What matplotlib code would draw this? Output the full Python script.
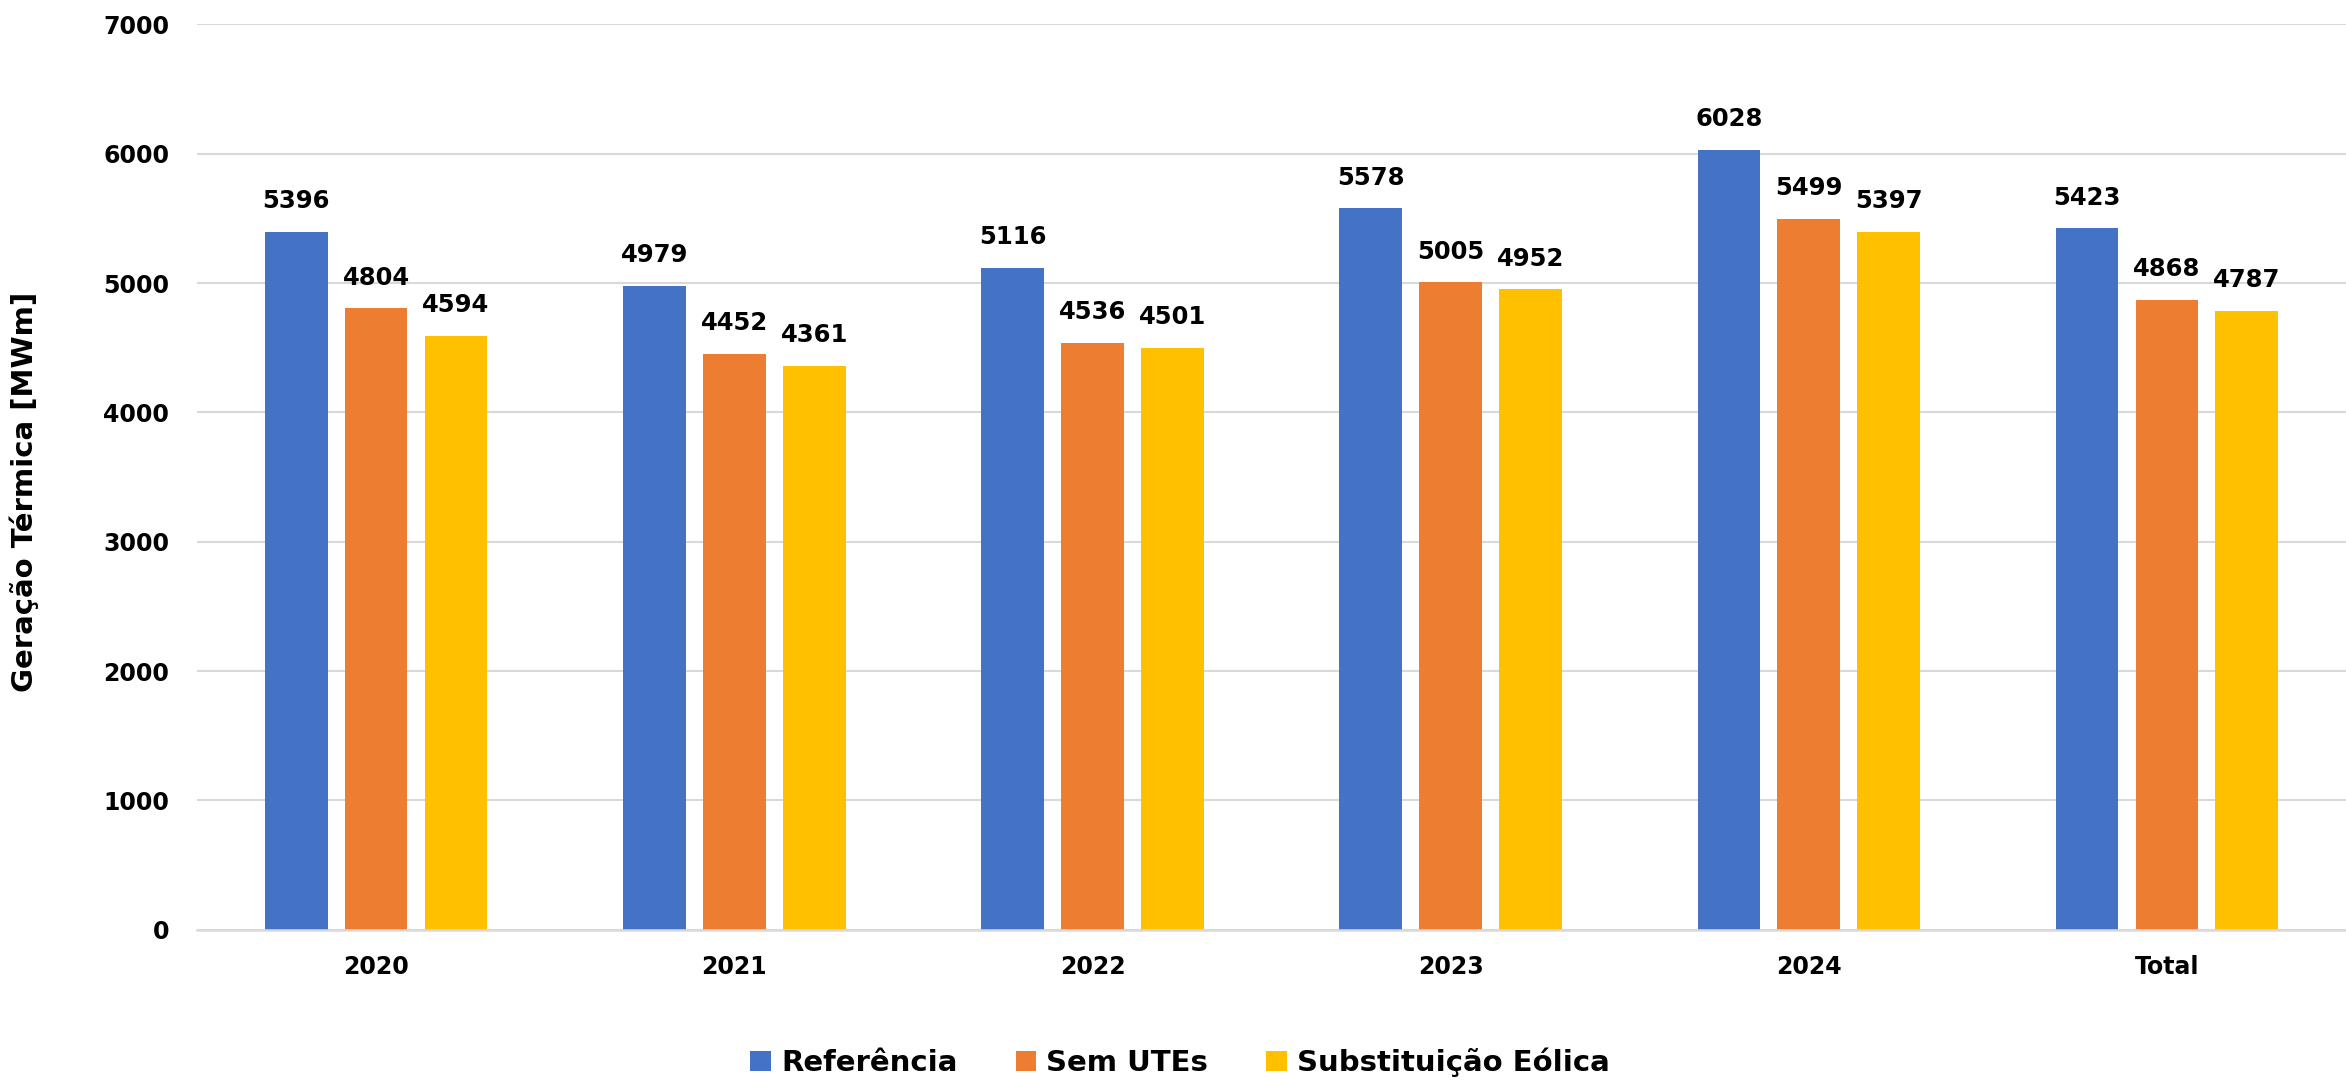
import matplotlib
matplotlib.use("Agg")
import matplotlib.pyplot as plt
import numpy as np

categories = ["2020", "2021", "2022", "2023", "2024", "Total"]
series_names = ["Referência", "Sem UTEs", "Substituição Eólica"]
referencia = [5396, 4979, 5116, 5578, 6028, 5423]
sem_utes = [4804, 4452, 4536, 5005, 5499, 4868]
subst_eolica = [4594, 4361, 4501, 4952, 5397, 4787]
colors = ["#4472C4", "#ED7D31", "#FFC000"]
yticks = [0, 1000, 2000, 3000, 4000, 5000, 6000, 7000]

plt.rcParams['font.family'] = ['DejaVu Sans']
plt.rcParams['font.weight'] = 'bold'

fig = plt.figure(figsize=(23.46, 10.82), dpi=100)
ax = fig.add_axes([0.0840, 0.1407, 0.9160, 0.8367])

x = np.arange(len(categories))
width = 0.175
step = 0.223
all_series = [referencia, sem_utes, subst_eolica]
for i, (vals, name, c) in enumerate(zip(all_series, series_names, colors)):
    pos = x + (i - 1) * step
    bars = ax.bar(pos, vals, width=width, color=c, label=name, zorder=3)
    for b, v in zip(bars, vals):
        ax.annotate(f"{v}", xy=(b.get_x() + b.get_width() / 2, v),
                    xytext=(0, 13.5), textcoords="offset points",
                    ha="center", va="bottom", fontsize=17.5,
                    fontweight="bold", color="black")

ax.set_xlim(-0.5, len(categories) - 0.5)
ax.set_ylim(0, 7000)
ax.set_yticks(yticks)
ax.set_yticklabels([str(t) for t in yticks], fontsize=17, fontweight="bold")
ax.set_xticks(x)
ax.set_xticklabels(categories, fontsize=17, fontweight="bold")
ax.tick_params(axis="both", length=0)
ax.tick_params(axis="y", pad=20)
ax.tick_params(axis="x", pad=18)

ax.grid(axis="y", color="#D9D9D9", linewidth=1.5, zorder=0)
for s in ["top", "right", "left"]:
    ax.spines[s].set_visible(False)
ax.spines["bottom"].set_color("#D9D9D9")
ax.spines["bottom"].set_linewidth(1.8)
ax.spines["bottom"].set_zorder(4)

fig.text(0.0105, 0.545, "Geração Térmica [MWm]", rotation=90, ha="center",
         va="center", fontsize=21, fontweight="bold")

leg = fig.legend(loc="center", bbox_to_anchor=(0.503, 0.018), ncol=3,
                 frameon=False, prop={"size": 21, "weight": "bold"},
                 handlelength=0.7, handleheight=0.72, handletextpad=0.35,
                 columnspacing=2.0, borderaxespad=0, borderpad=0)

fig.savefig("out.png", dpi=100)
